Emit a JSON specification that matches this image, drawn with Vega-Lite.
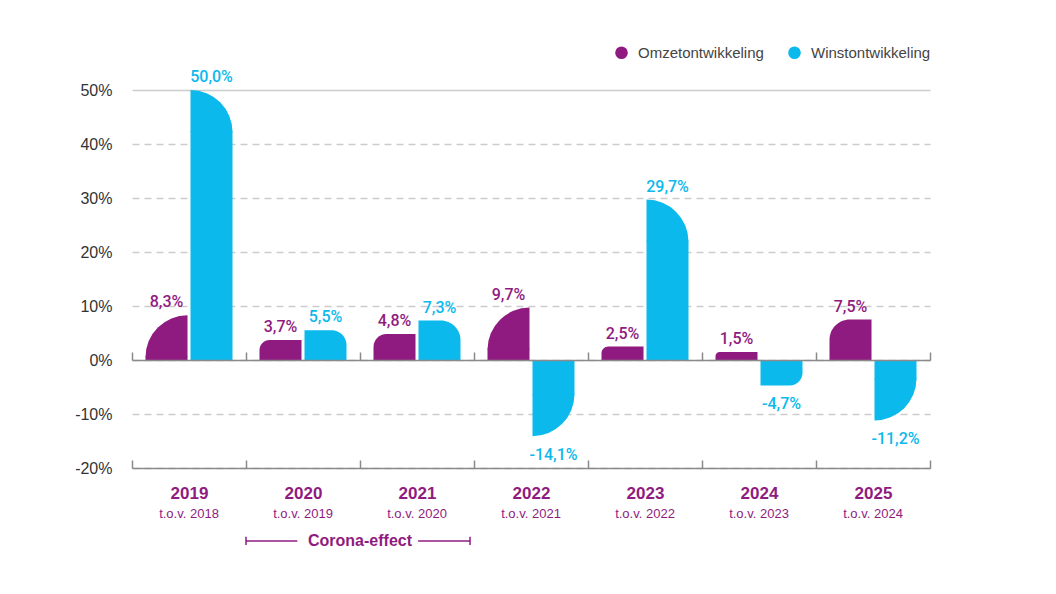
{
  "$schema": "https://vega.github.io/schema/vega-lite/v6.json",
  "width": 798,
  "height": 378,
  "autosize": {"type": "none"},
  "padding": {"left": 132, "top": 90, "right": 126, "bottom": 126},
  "background": "white",
  "config": {
    "view": {"stroke": null},
    "locale": {"number": {"decimal": ",", "thousands": ".", "grouping": [3], "currency": ["€ ", ""], "minus": "-"}},
    "font": "Liberation Sans"
  },
  "datasets": {
    "groei": [
      {"jaar": "2019", "reeks": "Omzetontwikkeling", "groei": 0.083},
      {"jaar": "2019", "reeks": "Winstontwikkeling", "groei": 0.5},
      {"jaar": "2020", "reeks": "Omzetontwikkeling", "groei": 0.037},
      {"jaar": "2020", "reeks": "Winstontwikkeling", "groei": 0.055},
      {"jaar": "2021", "reeks": "Omzetontwikkeling", "groei": 0.048},
      {"jaar": "2021", "reeks": "Winstontwikkeling", "groei": 0.073},
      {"jaar": "2022", "reeks": "Omzetontwikkeling", "groei": 0.097},
      {"jaar": "2022", "reeks": "Winstontwikkeling", "groei": -0.141},
      {"jaar": "2023", "reeks": "Omzetontwikkeling", "groei": 0.025},
      {"jaar": "2023", "reeks": "Winstontwikkeling", "groei": 0.297},
      {"jaar": "2024", "reeks": "Omzetontwikkeling", "groei": 0.015},
      {"jaar": "2024", "reeks": "Winstontwikkeling", "groei": -0.047},
      {"jaar": "2025", "reeks": "Omzetontwikkeling", "groei": 0.075},
      {"jaar": "2025", "reeks": "Winstontwikkeling", "groei": -0.112}
    ],
    "jaren": [
      {"jaar": "2019", "vergelijking": "t.o.v. 2018"},
      {"jaar": "2020", "vergelijking": "t.o.v. 2019"},
      {"jaar": "2021", "vergelijking": "t.o.v. 2020"},
      {"jaar": "2022", "vergelijking": "t.o.v. 2021"},
      {"jaar": "2023", "vergelijking": "t.o.v. 2022"},
      {"jaar": "2024", "vergelijking": "t.o.v. 2023"},
      {"jaar": "2025", "vergelijking": "t.o.v. 2024"}
    ],
    "corona": [
      {"van": "2020", "tot": "2021", "label": "Corona-effect"}
    ]
  },
  "data": {"name": "groei"},
  "resolve": {"axis": {"x": "independent"}},
  "layer": [
    {
      "transform": [{"filter": "datum.reeks == 'Omzetontwikkeling' && datum.groei >= 0.0778"}],
      "mark": {"type": "bar", "width": 42, "xOffset": -22.5, "yOffset": 41},
      "encoding": {
        "x": {"field": "jaar", "type": "nominal", "scale": {"paddingInner": 0, "paddingOuter": 0},
          "axis": {"orient": "bottom", "title": null, "labelAngle": 0, "domainColor": "#8a8a8a", "domainWidth": 1.5, "tickColor": "#8a8a8a", "tickWidth": 1.5, "tickSize": -8, "tickBand": "extent", "labelFont": "Liberation Sans", "labelFontWeight": "bold", "labelFontSize": 17, "labelColor": "#8F1B80", "labelPadding": 25}},
        "y": {"field": "groei", "type": "quantitative", "stack": null, "scale": {"domain": [-0.2, 0.5], "nice": false},
          "axis": {"title": null, "format": ".0%", "values": [-0.2, -0.1, 0, 0.1, 0.2, 0.3, 0.4, 0.5], "domain": false, "ticks": false, "labelFont": "Liberation Sans", "labelFontSize": 16, "labelColor": "#333333", "labelPadding": 20, "grid": true, "gridColor": "#cccccc", "gridWidth": 1.5, "gridDash": {"condition": {"test": "datum.value >= 0.49", "value": []}, "value": [7, 5]}}},
        "y2": {"datum": 0},
        "color": {"field": "reeks", "type": "nominal",
          "scale": {"domain": ["Omzetontwikkeling", "Winstontwikkeling"], "range": ["#8F1B80", "#0BB9EC"]},
          "legend": {"orient": "none", "legendX": 482, "legendY": -45, "direction": "horizontal", "title": null, "symbolType": "circle", "symbolSize": 160, "symbolStrokeWidth": 0, "labelFont": "Liberation Sans", "labelFontSize": 15, "labelColor": "#444444", "labelOffset": 9, "columnPadding": 23, "padding": 0}}
      }
    },
    {
      "transform": [{"filter": "datum.reeks == 'Winstontwikkeling' && datum.groei >= 0.0778"}],
      "mark": {"type": "bar", "width": 42, "xOffset": 22.5, "yOffset": 41},
      "encoding": {
        "x": {"field": "jaar", "type": "nominal",
          "axis": {"orient": "bottom", "title": null, "labels": false, "offset": -108, "zindex": 1, "domainColor": "#8a8a8a", "domainWidth": 1.5, "tickColor": "#8a8a8a", "tickWidth": 1.5, "tickSize": -8, "tickBand": "extent"}},
        "y": {"field": "groei", "type": "quantitative", "stack": null},
        "y2": {"datum": 0},
        "color": {"field": "reeks", "type": "nominal", "legend": null}
      }
    },
    {
      "transform": [{"filter": "datum.reeks == 'Winstontwikkeling' && datum.groei <= -0.0778"}],
      "mark": {"type": "bar", "width": 42, "xOffset": 22.5, "yOffset": -41},
      "encoding": {
        "x": {"field": "jaar", "type": "nominal", "axis": null},
        "y": {"field": "groei", "type": "quantitative", "stack": null},
        "y2": {"datum": 0},
        "color": {"field": "reeks", "type": "nominal", "legend": null}
      }
    },
    {
      "transform": [{"filter": "datum.reeks == 'Omzetontwikkeling' && datum.groei < 0.0778"}],
      "mark": {"type": "bar", "width": 42, "xOffset": -22.5, "cornerRadiusTopLeft": 42},
      "encoding": {
        "x": {"field": "jaar", "type": "nominal", "axis": null},
        "y": {"field": "groei", "type": "quantitative", "stack": null},
        "y2": {"datum": 0},
        "color": {"field": "reeks", "type": "nominal", "legend": null}
      }
    },
    {
      "transform": [{"filter": "datum.reeks == 'Winstontwikkeling' && datum.groei < 0.0778 && datum.groei >= 0"}],
      "mark": {"type": "bar", "width": 42, "xOffset": 22.5, "cornerRadiusTopRight": 42},
      "encoding": {
        "x": {"field": "jaar", "type": "nominal", "axis": null},
        "y": {"field": "groei", "type": "quantitative", "stack": null},
        "y2": {"datum": 0},
        "color": {"field": "reeks", "type": "nominal", "legend": null}
      }
    },
    {
      "transform": [{"filter": "datum.reeks == 'Winstontwikkeling' && datum.groei > -0.0778 && datum.groei < 0"}],
      "mark": {"type": "bar", "width": 42, "xOffset": 22.5, "cornerRadiusBottomRight": 42},
      "encoding": {
        "x": {"field": "jaar", "type": "nominal", "axis": null},
        "y": {"field": "groei", "type": "quantitative", "stack": null},
        "y2": {"datum": 0},
        "color": {"field": "reeks", "type": "nominal", "legend": null}
      }
    },
    {
      "transform": [{"filter": "datum.reeks == 'Omzetontwikkeling' && datum.groei >= 0.0778"}],
      "mark": {"type": "arc", "radius": 42, "theta": -1.5708, "theta2": 0, "xOffset": -1.5, "yOffset": 42},
      "encoding": {
        "x": {"field": "jaar", "type": "nominal", "axis": null},
        "y": {"field": "groei", "type": "quantitative"},
        "color": {"field": "reeks", "type": "nominal", "legend": null}
      }
    },
    {
      "transform": [{"filter": "datum.reeks == 'Winstontwikkeling' && datum.groei >= 0.0778"}],
      "mark": {"type": "arc", "radius": 42, "theta": 0, "theta2": 1.5708, "xOffset": 1.5, "yOffset": 42},
      "encoding": {
        "x": {"field": "jaar", "type": "nominal", "axis": null},
        "y": {"field": "groei", "type": "quantitative"},
        "color": {"field": "reeks", "type": "nominal", "legend": null}
      }
    },
    {
      "transform": [{"filter": "datum.reeks == 'Winstontwikkeling' && datum.groei <= -0.0778"}],
      "mark": {"type": "arc", "radius": 42, "theta": 1.5708, "theta2": 3.1416, "xOffset": 1.5, "yOffset": -42},
      "encoding": {
        "x": {"field": "jaar", "type": "nominal", "axis": null},
        "y": {"field": "groei", "type": "quantitative"},
        "color": {"field": "reeks", "type": "nominal", "legend": null}
      }
    },
    {
      "transform": [{"filter": "datum.reeks == 'Omzetontwikkeling'"}],
      "mark": {"type": "text", "xOffset": -22.5, "dy": -8, "baseline": "alphabetic", "font": "Roboto", "fontWeight": 500, "fontSize": 16, "color": "#8F1B80"},
      "encoding": {
        "x": {"field": "jaar", "type": "nominal", "axis": null},
        "y": {"field": "groei", "type": "quantitative"},
        "text": {"field": "groei", "type": "quantitative", "format": ".1%"}
      }
    },
    {
      "transform": [{"filter": "datum.reeks == 'Winstontwikkeling' && datum.groei >= 0"}],
      "mark": {"type": "text", "xOffset": 22.5, "dy": -8, "baseline": "alphabetic", "font": "Roboto", "fontWeight": 500, "fontSize": 16, "color": "#0BB9EC"},
      "encoding": {
        "x": {"field": "jaar", "type": "nominal", "axis": null},
        "y": {"field": "groei", "type": "quantitative"},
        "text": {"field": "groei", "type": "quantitative", "format": ".1%"}
      }
    },
    {
      "transform": [{"filter": "datum.reeks == 'Winstontwikkeling' && datum.groei < 0"}],
      "mark": {"type": "text", "xOffset": 22.5, "dy": 24, "baseline": "alphabetic", "font": "Roboto", "fontWeight": 500, "fontSize": 16, "color": "#0BB9EC"},
      "encoding": {
        "x": {"field": "jaar", "type": "nominal", "axis": null},
        "y": {"field": "groei", "type": "quantitative"},
        "text": {"field": "groei", "type": "quantitative", "format": ".1%"}
      }
    },
    {
      "data": {"name": "jaren"},
      "mark": {"type": "text", "baseline": "middle", "font": "Liberation Sans", "fontSize": 13, "color": "#8F1B80"},
      "encoding": {
        "x": {"field": "jaar", "type": "nominal", "axis": null},
        "y": {"datum": -0.2852},
        "text": {"field": "vergelijking"}
      }
    },
    {
      "data": {"name": "corona"},
      "mark": {"type": "text", "baseline": "middle", "font": "Liberation Sans", "fontWeight": "bold", "fontSize": 16, "color": "#8F1B80"},
      "encoding": {
        "x": {"field": "tot", "type": "nominal", "bandPosition": 0, "axis": null},
        "y": {"datum": -0.335},
        "text": {"field": "label"}
      }
    },
    {
      "data": {"name": "corona"},
      "mark": {"type": "rule", "color": "#8F1B80", "strokeWidth": 1.5},
      "encoding": {
        "x": {"field": "van", "type": "nominal", "bandPosition": 0, "axis": null},
        "x2": {"field": "van", "bandPosition": 0.45},
        "y": {"datum": -0.335}
      }
    },
    {
      "data": {"name": "corona"},
      "mark": {"type": "rule", "color": "#8F1B80", "strokeWidth": 1.5},
      "encoding": {
        "x": {"field": "tot", "type": "nominal", "bandPosition": 0.51, "axis": null},
        "x2": {"field": "tot", "bandPosition": 0.965},
        "y": {"datum": -0.335}
      }
    },
    {
      "data": {"name": "corona"},
      "mark": {"type": "rule", "color": "#8F1B80", "strokeWidth": 1.5},
      "encoding": {
        "x": {"field": "van", "type": "nominal", "bandPosition": 0, "axis": null},
        "y": {"datum": -0.3275},
        "y2": {"datum": -0.3425}
      }
    },
    {
      "data": {"name": "corona"},
      "mark": {"type": "rule", "color": "#8F1B80", "strokeWidth": 1.5},
      "encoding": {
        "x": {"field": "tot", "type": "nominal", "bandPosition": 0.965, "axis": null},
        "y": {"datum": -0.3275},
        "y2": {"datum": -0.3425}
      }
    }
  ]
}
